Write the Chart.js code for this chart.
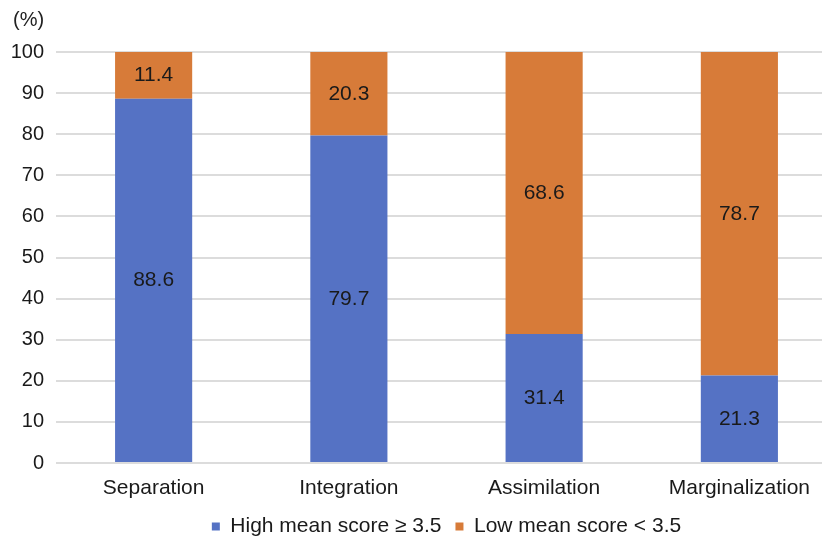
<!DOCTYPE html>
<html>
<head>
<meta charset="utf-8">
<script src="https://cdn.jsdelivr.net/npm/chart.js@4.4.0/dist/chart.umd.min.js"></script>
<style>
html,body{margin:0;padding:0;background:#fff;overflow:hidden;}
#wrap{width:840px;height:540px;position:relative;}
</style>
</head>
<body>
<div id="wrap"><canvas id="c" width="840" height="540"></canvas></div>
<script>
const categories = ["Separation", "Integration", "Assimilation", "Marginalization"];
const highScore = [88.6, 79.7, 31.4, 21.3];
const lowScore = [11.4, 20.3, 68.6, 78.7];
const seriesNames = ["High mean score \u2265 3.5", "Low mean score < 3.5"];
const yTicks = [0, 10, 20, 30, 40, 50, 60, 70, 80, 90, 100];

const FONT = "'Liberation Sans', Arial, sans-serif";

const valueLabels = {
  id: 'valueLabels',
  afterDatasetsDraw(chart) {
    const ctx = chart.ctx;
    ctx.save();
    ctx.font = "21px " + FONT;
    ctx.fillStyle = "#1a1a1a";
    ctx.textAlign = "center";
    ctx.textBaseline = "middle";
    chart.data.datasets.forEach((ds, di) => {
      const meta = chart.getDatasetMeta(di);
      meta.data.forEach((bar, i) => {
        const p = bar.getProps(['x', 'y', 'base'], true);
        ctx.fillText(ds.data[i].toFixed(1), p.x, (p.y + p.base) / 2);
      });
    });
    ctx.fillStyle = "#222";
    ctx.textAlign = "left";
    ctx.font = "20px " + FONT;
    ctx.fillText("(%)", 13, 20);
    ctx.restore();
  }
};

new Chart(document.getElementById('c'), {
  type: 'bar',
  data: {
    labels: categories,
    datasets: [
      { label: seriesNames[0], data: highScore, backgroundColor: '#5572c4', borderWidth: 0 },
      { label: seriesNames[1], data: lowScore, backgroundColor: '#d77b39', borderWidth: 0 }
    ]
  },
  options: {
    responsive: false,
    animation: false,
    devicePixelRatio: 1,
    layout: { padding: { top: 52, right: 3, left: 0, bottom: -7 } },
    plugins: {
      legend: {
        position: 'bottom',
        fullSize: false,
        labels: {
          font: { family: FONT, size: 21 },
          color: '#1a1a1a',
          boxWidth: 8,
          boxHeight: 8,
          padding: 14
        }
      },
      tooltip: { enabled: false }
    },
    scales: {
      x: {
        stacked: true,
        grid: { display: false, drawTicks: false },
        border: { display: false },
        ticks: { font: { family: FONT, size: 21 }, color: '#1a1a1a', padding: 13 },
        afterFit(s) { s.height = 39; }
      },
      y: {
        stacked: true,
        min: 0,
        max: 100,
        afterBuildTicks(s) { s.ticks = yTicks.map(v => ({ value: v })); },
        grid: { color: '#dcdcdc', lineWidth: 2, drawTicks: false },
        border: { display: false },
        ticks: { font: { family: FONT, size: 20 }, color: '#1a1a1a', padding: 12 },
        afterFit(s) { s.width = 56; }
      }
    },
    categoryPercentage: 0.395,
    barPercentage: 1
  },
  plugins: [valueLabels]
});
</script>
</body>
</html>
